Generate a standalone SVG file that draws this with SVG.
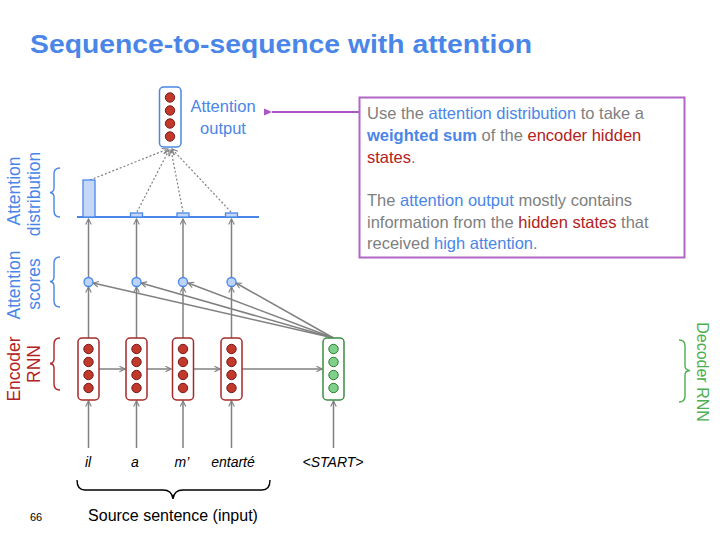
<svg xmlns="http://www.w3.org/2000/svg" width="720" height="540" viewBox="0 0 720 540">
<defs>
<style>
.t{font-family:"Liberation Sans",Arial,sans-serif}
.blue{fill:#4a86e8}
.red{fill:#b22222}
.grey{fill:#7f7f7f}
.arr{stroke:#808080;stroke-width:1.5;fill:none;marker-end:url(#ah)}
.dot{stroke:#808080;stroke-width:1.2;fill:none;stroke-dasharray:2 2;marker-end:url(#ah)}
.enc{fill:#fff;stroke:#a52a2a;stroke-width:1.5}
.ec{fill:#c0392b;stroke:#7a1a1a;stroke-width:1}
.dec{fill:#fff;stroke:#3c8c44;stroke-width:1.5}
.dc{fill:#7fd08a;stroke:#2e7d32;stroke-width:1}
.sc{fill:#bcd4f7;stroke:#4a86e8;stroke-width:1.3}
.bar{fill:#c5d9f7;stroke:#4a86e8;stroke-width:1.3}
.br{fill:none;stroke-width:1.4}
</style>
<marker id="ah" viewBox="0 0 10 10" refX="9" refY="5" markerWidth="7" markerHeight="7" orient="auto" markerUnits="userSpaceOnUse">
<polyline points="1,1 9,5 1,9" fill="none" stroke="#808080" stroke-width="1.6"/>
</marker>
<marker id="ph" viewBox="0 0 10 10" refX="1" refY="5" markerWidth="9" markerHeight="9" orient="auto" markerUnits="userSpaceOnUse">
<path d="M10,1 L1,5 L10,9 Z" fill="#a855c8"/>
</marker>
</defs>
<rect width="720" height="540" fill="#fff"/>
<text class="t blue" x="30" y="53" font-size="26" font-weight="bold" textLength="502" lengthAdjust="spacingAndGlyphs">Sequence-to-sequence with attention</text>

<g id="connectors">
<line class="arr" x1="88.5" y1="448" x2="88.5" y2="401"/>
<line class="arr" x1="136.5" y1="448" x2="136.5" y2="401"/>
<line class="arr" x1="183" y1="448" x2="183" y2="401"/>
<line class="arr" x1="231.5" y1="448" x2="231.5" y2="401"/>
<line class="arr" x1="333.5" y1="448" x2="333.5" y2="401"/>
<line class="arr" x1="99" y1="369" x2="125" y2="369"/>
<line class="arr" x1="147" y1="369" x2="171" y2="369"/>
<line class="arr" x1="194" y1="369" x2="220" y2="369"/>
<line class="arr" x1="242" y1="369" x2="322" y2="369"/>
<line class="arr" x1="88.5" y1="338" x2="88.5" y2="287"/>
<line class="arr" x1="136.5" y1="338" x2="136.5" y2="287"/>
<line class="arr" x1="183" y1="338" x2="183" y2="287"/>
<line class="arr" x1="231.5" y1="338" x2="231.5" y2="287"/>
<line class="arr" x1="333.5" y1="338" x2="93" y2="283"/>
<line class="arr" x1="333.5" y1="338" x2="141" y2="283"/>
<line class="arr" x1="333.5" y1="338" x2="188" y2="283"/>
<line class="arr" x1="333.5" y1="338" x2="236" y2="283"/>
<line class="arr" x1="88.5" y1="277" x2="88.5" y2="219"/>
<line class="arr" x1="136.5" y1="277" x2="136.5" y2="219"/>
<line class="arr" x1="183" y1="277" x2="183" y2="219"/>
<line class="arr" x1="231.5" y1="277" x2="231.5" y2="219"/>
<line class="dot" x1="90" y1="180" x2="168" y2="149"/>
<line class="dot" x1="137" y1="212" x2="169" y2="150"/>
<line class="dot" x1="183" y1="212" x2="171" y2="150"/>
<line class="dot" x1="231" y1="212" x2="172" y2="149"/>
<line x1="359" y1="112" x2="272" y2="112" stroke="#a855c8" stroke-width="2" marker-end="url(#ph)"/>
</g>

<g id="distribution">
<line x1="77" y1="217" x2="259" y2="217" stroke="#4a86e8" stroke-width="2"/>
<rect class="bar" x="83" y="180" width="12" height="37"/>
<rect class="bar" x="130.5" y="213" width="12" height="4"/>
<rect class="bar" x="177" y="213" width="12" height="4"/>
<rect class="bar" x="225.5" y="213" width="12" height="4"/>
</g>

<g id="scores">
<circle class="sc" cx="88.5" cy="282" r="4.5"/>
<circle class="sc" cx="136.5" cy="282" r="4.5"/>
<circle class="sc" cx="183" cy="282" r="4.5"/>
<circle class="sc" cx="231.5" cy="282" r="4.5"/>
</g>

<g id="enc1"><rect class="enc" x="78" y="338" width="21" height="62" rx="4"/><circle class="ec" cx="88.5" cy="349" r="4.7"/><circle class="ec" cx="88.5" cy="362" r="4.7"/><circle class="ec" cx="88.5" cy="375" r="4.7"/><circle class="ec" cx="88.5" cy="388" r="4.7"/></g>
<g id="enc2"><rect class="enc" x="126" y="338" width="21" height="62" rx="4"/><circle class="ec" cx="136.5" cy="349" r="4.7"/><circle class="ec" cx="136.5" cy="362" r="4.7"/><circle class="ec" cx="136.5" cy="375" r="4.7"/><circle class="ec" cx="136.5" cy="388" r="4.7"/></g>
<g id="enc3"><rect class="enc" x="172.5" y="338" width="21" height="62" rx="4"/><circle class="ec" cx="183" cy="349" r="4.7"/><circle class="ec" cx="183" cy="362" r="4.7"/><circle class="ec" cx="183" cy="375" r="4.7"/><circle class="ec" cx="183" cy="388" r="4.7"/></g>
<g id="enc4"><rect class="enc" x="221" y="338" width="21" height="62" rx="4"/><circle class="ec" cx="231.5" cy="349" r="4.7"/><circle class="ec" cx="231.5" cy="362" r="4.7"/><circle class="ec" cx="231.5" cy="375" r="4.7"/><circle class="ec" cx="231.5" cy="388" r="4.7"/></g>
<g id="dec1"><rect class="dec" x="323" y="338" width="21" height="62" rx="4"/><circle class="dc" cx="333.5" cy="349" r="4.7"/><circle class="dc" cx="333.5" cy="362" r="4.7"/><circle class="dc" cx="333.5" cy="375" r="4.7"/><circle class="dc" cx="333.5" cy="388" r="4.7"/></g>

<g id="attnout"><rect x="159.5" y="87" width="21.5" height="60" rx="4" fill="#fff" stroke="#4a86e8" stroke-width="1.5"/><circle class="ec" cx="170" cy="97.5" r="4.7"/><circle class="ec" cx="170" cy="110.5" r="4.7"/><circle class="ec" cx="170" cy="123.5" r="4.7"/><circle class="ec" cx="170" cy="136.5" r="4.7"/>
<text class="t blue" font-size="16.5" text-anchor="middle"><tspan x="223" y="112">Attention</tspan><tspan x="223" y="134">output</tspan></text></g>

<g id="callout">
<rect x="359.5" y="97.5" width="325" height="160" fill="#fff" stroke="#b066c8" stroke-width="2"/>
<text class="t grey" font-size="16.5">
<tspan x="367" y="119">Use the <tspan class="blue">attention distribution</tspan> to take a</tspan>
<tspan x="367" y="141"><tspan class="blue" font-weight="bold">weighted sum</tspan> of the <tspan class="red">encoder hidden</tspan></tspan>
<tspan x="367" y="163"><tspan class="red">states</tspan>.</tspan>
<tspan x="367" y="206">The <tspan class="blue">attention output</tspan> mostly contains</tspan>
<tspan x="367" y="228">information from the <tspan class="red">hidden states</tspan> that</tspan>
<tspan x="367" y="249">received <tspan class="blue">high attention</tspan>.</tspan>
</text>
</g>

<g id="labels">
<text class="t blue" font-size="17.5" text-anchor="middle" transform="translate(20,191) rotate(-90)">Attention</text>
<text class="t blue" font-size="17.5" text-anchor="middle" transform="translate(40,194) rotate(-90)">distribution</text>
<text class="t blue" font-size="17.5" text-anchor="middle" transform="translate(20,285) rotate(-90)">Attention</text>
<text class="t blue" font-size="17.5" text-anchor="middle" transform="translate(40,284) rotate(-90)">scores</text>
<text class="t red" font-size="17.5" text-anchor="middle" transform="translate(20,369) rotate(-90)">Encoder</text>
<text class="t red" font-size="17.5" text-anchor="middle" transform="translate(40,364) rotate(-90)">RNN</text>
<text class="t" font-size="16" fill="#4caf50" text-anchor="middle" transform="translate(697,372) rotate(90)">Decoder RNN</text>
<path class="br" stroke="#4a86e8" d="M60,168 Q54,168 54,174 L54,188 Q54,192 50,192.5 Q54,193 54,197 L54,211 Q54,217 60,217"/>
<path class="br" stroke="#4a86e8" d="M60,257 Q54,257 54,263 L54,277 Q54,281 50,281.5 Q54,282 54,286 L54,301 Q54,307 60,307"/>
<path class="br" stroke="#b22222" d="M60,338 Q54,338 54,344 L54,359 Q54,363 50,363.5 Q54,364 54,368 L54,384 Q54,390 60,390"/>
<path class="br" stroke="#4caf50" d="M679,340 Q685,340 685,346 L685,366 Q685,370 690,370.5 Q685,371 685,375 L685,396 Q685,402 679,402"/>
<path class="br" stroke="#000" d="M77,480 Q77,490 85,490 L163,490 Q172,490 173,499 Q174,490 183,490 L262,490 Q270,490 270,480"/>
</g>

<g id="words" class="t" font-size="14" font-style="italic" fill="#000" text-anchor="middle">
<text x="88" y="467">il</text>
<text x="135" y="467">a</text>
<text x="182" y="467">m’</text>
<text x="233" y="467">entarté</text>
<text x="333" y="467">&lt;START&gt;</text>
</g>
<text class="t" x="173" y="521" font-size="16" text-anchor="middle" fill="#000">Source sentence (input)</text>
<text class="t" x="30" y="521" font-size="11" fill="#000">66</text>
</svg>
